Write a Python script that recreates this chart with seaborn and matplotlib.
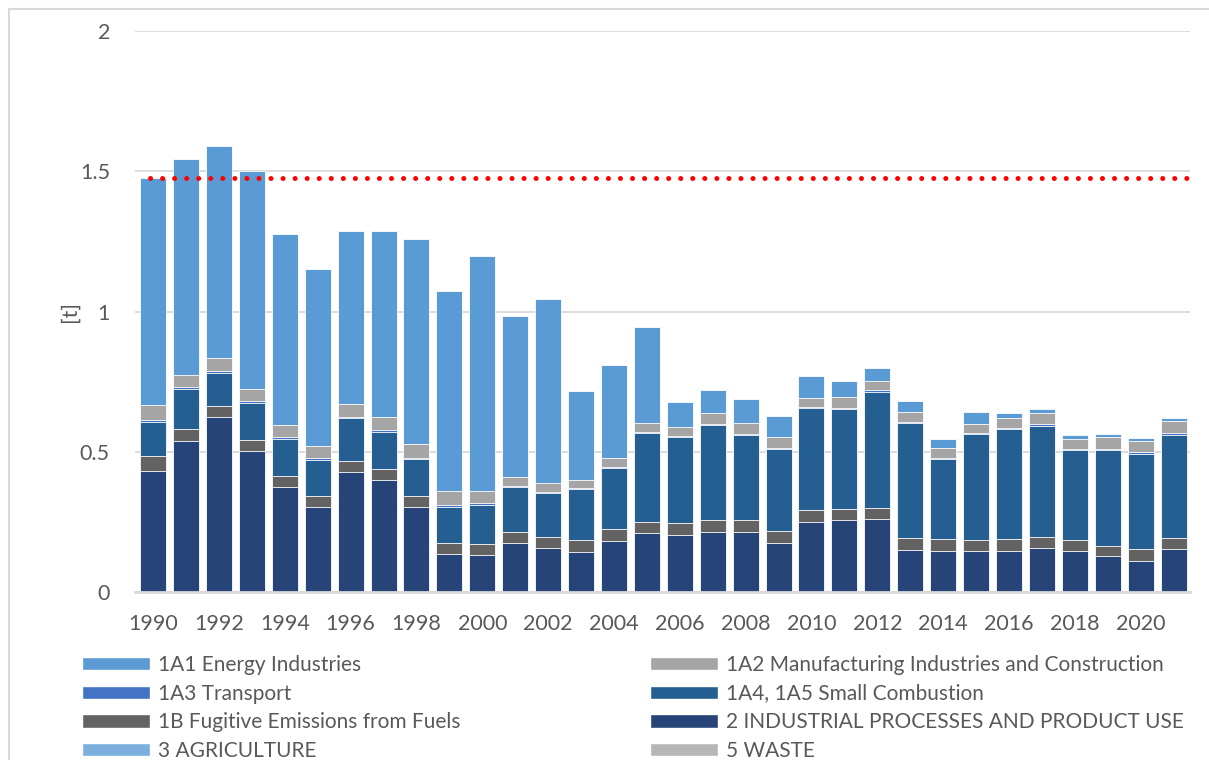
import numpy as np
import pandas as pd
import seaborn as sns
import matplotlib
matplotlib.use("Agg")
import matplotlib.pyplot as plt
from matplotlib.patches import Patch, Rectangle

years = list(range(1990, 2022))

# emissions per sector [t]
energy = [0.808, 0.770, 0.756, 0.777, 0.680, 0.632, 0.618, 0.663, 0.731, 0.713, 0.839, 0.574, 0.653, 0.315, 0.333, 0.342,
          0.089, 0.082, 0.086, 0.074, 0.079, 0.057, 0.048, 0.041, 0.033, 0.043, 0.019, 0.015, 0.014, 0.012, 0.011, 0.009]
manufacturing = [0.054, 0.044, 0.047, 0.044, 0.044, 0.043, 0.045, 0.045, 0.050, 0.049, 0.044, 0.031, 0.032, 0.030, 0.031, 0.033,
                 0.033, 0.040, 0.039, 0.039, 0.031, 0.038, 0.032, 0.034, 0.035, 0.032, 0.035, 0.039, 0.035, 0.041, 0.041, 0.043]
transport = [0.006, 0.007, 0.005, 0.005, 0.007, 0.006, 0.004, 0.007, 0.006, 0.007, 0.005, 0.004, 0.004, 0.004, 0.004, 0.003,
             0.004, 0.004, 0.003, 0.003, 0.004, 0.005, 0.006, 0.003, 0.004, 0.004, 0.004, 0.005, 0.005, 0.004, 0.005, 0.006]
small_comb = [0.122, 0.143, 0.119, 0.133, 0.130, 0.129, 0.155, 0.134, 0.131, 0.130, 0.141, 0.162, 0.158, 0.182, 0.218, 0.317,
              0.306, 0.337, 0.304, 0.295, 0.365, 0.356, 0.416, 0.413, 0.285, 0.378, 0.392, 0.398, 0.321, 0.344, 0.341, 0.368]
fugitive = [0.053, 0.042, 0.038, 0.038, 0.039, 0.040, 0.039, 0.040, 0.040, 0.040, 0.039, 0.039, 0.040, 0.044, 0.044, 0.041,
            0.041, 0.044, 0.043, 0.040, 0.041, 0.040, 0.039, 0.040, 0.041, 0.039, 0.041, 0.039, 0.039, 0.036, 0.040, 0.040]
ippu = [0.432, 0.538, 0.625, 0.504, 0.375, 0.302, 0.427, 0.398, 0.302, 0.134, 0.131, 0.174, 0.156, 0.141, 0.181, 0.209,
        0.204, 0.213, 0.214, 0.176, 0.251, 0.256, 0.259, 0.151, 0.147, 0.145, 0.147, 0.156, 0.145, 0.127, 0.112, 0.153]
agriculture = [0.0, 0.0, 0.0, 0.0, 0.0, 0.0, 0.0, 0.0, 0.0, 0.0, 0.0, 0.0, 0.0, 0.0, 0.0, 0.0,
               0.0, 0.0, 0.0, 0.0, 0.0, 0.0, 0.0, 0.0, 0.0, 0.0, 0.0, 0.0, 0.0, 0.0, 0.0, 0.0]
waste = [0.0, 0.0, 0.0, 0.0, 0.0, 0.0, 0.0, 0.0, 0.0, 0.0, 0.0, 0.0, 0.0, 0.0, 0.0, 0.0,
         0.0, 0.0, 0.0, 0.0, 0.0, 0.0, 0.0, 0.0, 0.0, 0.0, 0.0, 0.0, 0.0, 0.0, 0.0, 0.0]

labels = ['1A1 Energy Industries', '1A2 Manufacturing Industries and Construction', '1A3 Transport',
          '1A4, 1A5 Small Combustion', '1B Fugitive Emissions from Fuels', '2 INDUSTRIAL PROCESSES AND PRODUCT USE',
          '3 AGRICULTURE', '5 WASTE']
colors = ['#5B9BD5', '#A5A5A5', '#4472C4', '#255E91', '#636363', '#264478', '#7CAFDD', '#B7B7B7']

df = pd.DataFrame({'year': years, labels[0]: energy, labels[1]: manufacturing, labels[2]: transport,
                   labels[3]: small_comb, labels[4]: fugitive, labels[5]: ippu, labels[6]: agriculture,
                   labels[7]: waste})

# stacking order from bottom to top
stack = [labels[7], labels[6], labels[5], labels[4], labels[3], labels[2], labels[1], labels[0]]
cum = df[stack].cumsum(axis=1)

sns.set_style("white")
plt.rcParams['font.family'] = ['Lato', 'DejaVu Sans']

fig = plt.figure(figsize=(12.09, 7.6), dpi=100)
ax = fig.add_axes([135 / 1209, 1 - 592 / 760, (1190 - 135) / 1209, (592 - 31) / 760])

# draw cumulative bars from the top layer down
for name in stack[::-1]:
    if df[name].sum() == 0:
        continue
    sns.barplot(x=df['year'], y=cum[name], color=colors[labels.index(name)], saturation=1, width=0.79,
                edgecolor='white', linewidth=0.6, errorbar=None, ax=ax, zorder=2)

# 1990 level
ref = cum[stack[-1]].iloc[0]
ax.plot([-0.1, 31.45], [ref, ref], color='#FF0000', lw=3.6, linestyle=(0, (0.01, 2.4)),
        dash_capstyle='round', zorder=3)

ax.set_xlim(-0.55, 31.5)
ax.set_ylim(0, 2)
ax.set_yticks([0, 0.5, 1, 1.5, 2])
ax.set_yticklabels(['0', '0.5', '1', '1.5', '2'])
ax.set_xticks(range(0, 32, 2))
ax.set_xticklabels([str(y) for y in years[::2]])
ax.tick_params(axis='both', length=0, labelsize=15.5, colors='#595959')
ax.tick_params(axis='y', pad=18)
ax.tick_params(axis='x', pad=16)
ax.set_xlabel('')
ax.set_ylabel('[t]', fontsize=15.5, color='#595959')
ax.yaxis.set_label_coords(-0.0525, 0.5)
ax.grid(axis='y', color='#D9D9D9', lw=1.3, zorder=0)
ax.set_axisbelow(True)
for s in ['top', 'right', 'left']:
    ax.spines[s].set_visible(False)
ax.spines['bottom'].set_color('#D9D9D9')
ax.spines['bottom'].set_linewidth(2)
ax.spines['bottom'].set_zorder(4)

order = [0, 2, 4, 6, 1, 3, 5, 7]
handles = [Patch(facecolor=colors[i], label=labels[i]) for i in order]
fig.legend(handles=handles, ncol=2, loc='upper left', bbox_to_anchor=(63 / 1209, 1 - 636 / 760),
           frameon=False, fontsize=15, labelcolor='#595959', handlelength=3.27, handleheight=0.6,
           handletextpad=0.385, labelspacing=0.42, columnspacing=9.1)

# chart frame
fig.patches.append(Rectangle((9 / 1209, -0.1), 1.2, 1.1 - 9 / 760, transform=fig.transFigure,
                             fill=False, edgecolor='#D9D9D9', lw=1.5))

fig.savefig('out.png', dpi=100)
